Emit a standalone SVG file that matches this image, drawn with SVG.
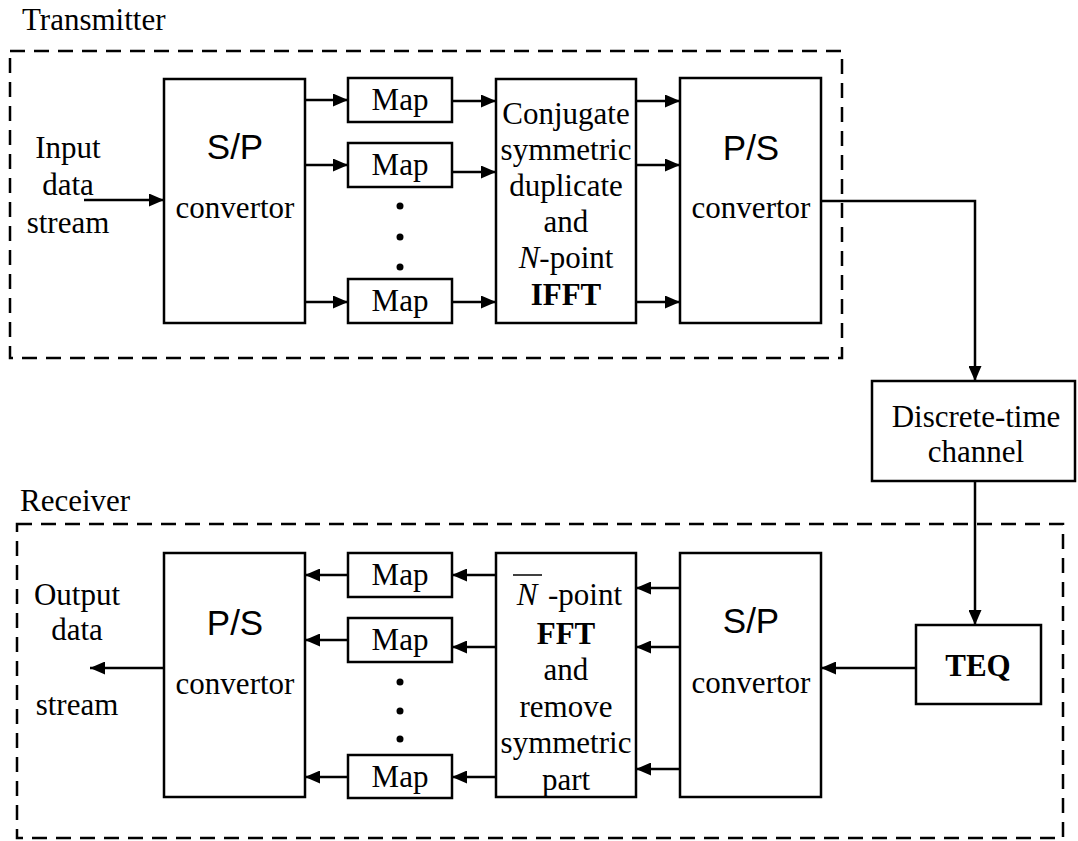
<svg xmlns="http://www.w3.org/2000/svg" width="1078" height="841" viewBox="0 0 1078 841">
<style>
.box{fill:#fff;stroke:#000;stroke-width:2.5}
.dash{fill:none;stroke:#000;stroke-width:2.5;stroke-dasharray:15 9}
.ln{fill:none;stroke:#000;stroke-width:2.5}
.t{font-family:"Liberation Serif","Times New Roman",serif;font-size:31px;fill:#000;text-anchor:middle}
.s{font-family:"Liberation Sans",Arial,sans-serif;font-size:35px;fill:#000;text-anchor:middle}
.b{font-weight:bold}
</style>
<defs>
<marker id="ah" markerWidth="15" markerHeight="13" refX="15" refY="6.5" orient="auto" markerUnits="userSpaceOnUse">
<path d="M0,0 L15,6.5 L0,13 Z" fill="#000"/>
</marker>
</defs>
<rect width="1078" height="841" fill="#fff"/>

<g id="transmitter">
<rect class="dash" x="10" y="51" width="832" height="307"/>
<text x="22" y="30" class="t" style="text-anchor:start">Transmitter</text>
</g>
<g id="receiver">
<rect class="dash" x="17" y="524" width="1046" height="314"/>
<text x="20" y="511" class="t" style="text-anchor:start">Receiver</text>
</g>

<g id="connectors">
<line class="ln" x1="84" y1="200" x2="164" y2="200" marker-end="url(#ah)"/>
<line class="ln" x1="305" y1="100" x2="348" y2="100" marker-end="url(#ah)"/>
<line class="ln" x1="305" y1="165" x2="348" y2="165" marker-end="url(#ah)"/>
<line class="ln" x1="305" y1="302" x2="348" y2="302" marker-end="url(#ah)"/>
<line class="ln" x1="452" y1="101" x2="496" y2="101" marker-end="url(#ah)"/>
<line class="ln" x1="452" y1="172" x2="496" y2="172" marker-end="url(#ah)"/>
<line class="ln" x1="452" y1="302" x2="496" y2="302" marker-end="url(#ah)"/>
<line class="ln" x1="636" y1="101" x2="680" y2="101" marker-end="url(#ah)"/>
<line class="ln" x1="636" y1="165" x2="680" y2="165" marker-end="url(#ah)"/>
<line class="ln" x1="636" y1="302" x2="680" y2="302" marker-end="url(#ah)"/>
<polyline class="ln" points="821,201 975,201 975,381" marker-end="url(#ah)"/>
<line class="ln" x1="975" y1="481" x2="975" y2="625" marker-end="url(#ah)"/>
<line class="ln" x1="916" y1="668" x2="821" y2="668" marker-end="url(#ah)"/>
<line class="ln" x1="680" y1="588" x2="636" y2="588" marker-end="url(#ah)"/>
<line class="ln" x1="680" y1="647" x2="636" y2="647" marker-end="url(#ah)"/>
<line class="ln" x1="680" y1="769" x2="636" y2="769" marker-end="url(#ah)"/>
<line class="ln" x1="496" y1="575" x2="452" y2="575" marker-end="url(#ah)"/>
<line class="ln" x1="496" y1="647" x2="452" y2="647" marker-end="url(#ah)"/>
<line class="ln" x1="496" y1="777" x2="452" y2="777" marker-end="url(#ah)"/>
<line class="ln" x1="348" y1="575" x2="305" y2="575" marker-end="url(#ah)"/>
<line class="ln" x1="348" y1="640" x2="305" y2="640" marker-end="url(#ah)"/>
<line class="ln" x1="348" y1="777" x2="305" y2="777" marker-end="url(#ah)"/>
<line class="ln" x1="164" y1="668" x2="90" y2="668" marker-end="url(#ah)"/>
</g>

<g id="input-label">
<text class="t" x="68" y="158">Input</text>
<text class="t" x="68" y="195">data</text>
<text class="t" x="68" y="233">stream</text>
</g>

<g id="tx-sp">
<rect class="box" x="164" y="79" width="141" height="244"/>
<text class="s" x="235" y="159">S/P</text>
<text class="t" x="235" y="218">convertor</text>
</g>
<g id="tx-map1"><rect class="box" x="348" y="78" width="104" height="44"/><text class="t" x="400" y="110">Map</text></g>
<g id="tx-map2"><rect class="box" x="348" y="143" width="104" height="44"/><text class="t" x="400" y="175">Map</text></g>
<g id="tx-map3"><rect class="box" x="348" y="279" width="104" height="44"/><text class="t" x="400" y="311">Map</text></g>
<g id="tx-dots"><circle cx="400" cy="206" r="3.5"/><circle cx="400" cy="237" r="3.5"/><circle cx="400" cy="267" r="3.5"/></g>
<g id="tx-ifft">
<rect class="box" x="496" y="79" width="140" height="244"/>
<text class="t" x="566" y="124">Conjugate</text>
<text class="t" x="566" y="160">symmetric</text>
<text class="t" x="566" y="196">duplicate</text>
<text class="t" x="566" y="232">and</text>
<text class="t" x="566" y="268"><tspan font-style="italic">N</tspan>-point</text>
<text class="t b" x="566" y="305">IFFT</text>
</g>
<g id="tx-ps">
<rect class="box" x="680" y="78" width="141" height="245"/>
<text class="s" x="751" y="160">P/S</text>
<text class="t" x="751" y="218">convertor</text>
</g>

<g id="channel">
<rect class="box" x="872" y="381" width="203" height="100"/>
<text class="t" x="976" y="427">Discrete-time</text>
<text class="t" x="976" y="462">channel</text>
</g>

<g id="teq">
<rect class="box" x="916" y="625" width="125" height="79"/>
<text class="t b" x="978" y="676">TEQ</text>
</g>
<g id="rx-sp">
<rect class="box" x="680" y="553" width="141" height="244"/>
<text class="s" x="751" y="633">S/P</text>
<text class="t" x="751" y="693">convertor</text>
</g>
<g id="rx-fft">
<rect class="box" x="496" y="553" width="140" height="244"/>
<text class="t" x="527" y="605" font-style="italic">N</text>
<line x1="513" y1="575" x2="542" y2="575" stroke="#000" stroke-width="1.5"/>
<text class="t" x="548" y="605" style="text-anchor:start">-point</text>
<text class="t b" x="566" y="644">FFT</text>
<text class="t" x="566" y="680">and</text>
<text class="t" x="566" y="717">remove</text>
<text class="t" x="566" y="753">symmetric</text>
<text class="t" x="566" y="790">part</text>
</g>
<g id="rx-map1"><rect class="box" x="348" y="553" width="104" height="44"/><text class="t" x="400" y="585">Map</text></g>
<g id="rx-map2"><rect class="box" x="348" y="618" width="104" height="44"/><text class="t" x="400" y="650">Map</text></g>
<g id="rx-map3"><rect class="box" x="348" y="755" width="104" height="43"/><text class="t" x="400" y="787">Map</text></g>
<g id="rx-dots"><circle cx="400" cy="682" r="3.5"/><circle cx="400" cy="711" r="3.5"/><circle cx="400" cy="739" r="3.5"/></g>
<g id="rx-ps">
<rect class="box" x="164" y="553" width="141" height="244"/>
<text class="s" x="235" y="635">P/S</text>
<text class="t" x="235" y="694">convertor</text>
</g>
<g id="output-label">
<text class="t" x="77" y="605">Output</text>
<text class="t" x="77" y="640">data</text>
<text class="t" x="77" y="715">stream</text>
</g>
</svg>
